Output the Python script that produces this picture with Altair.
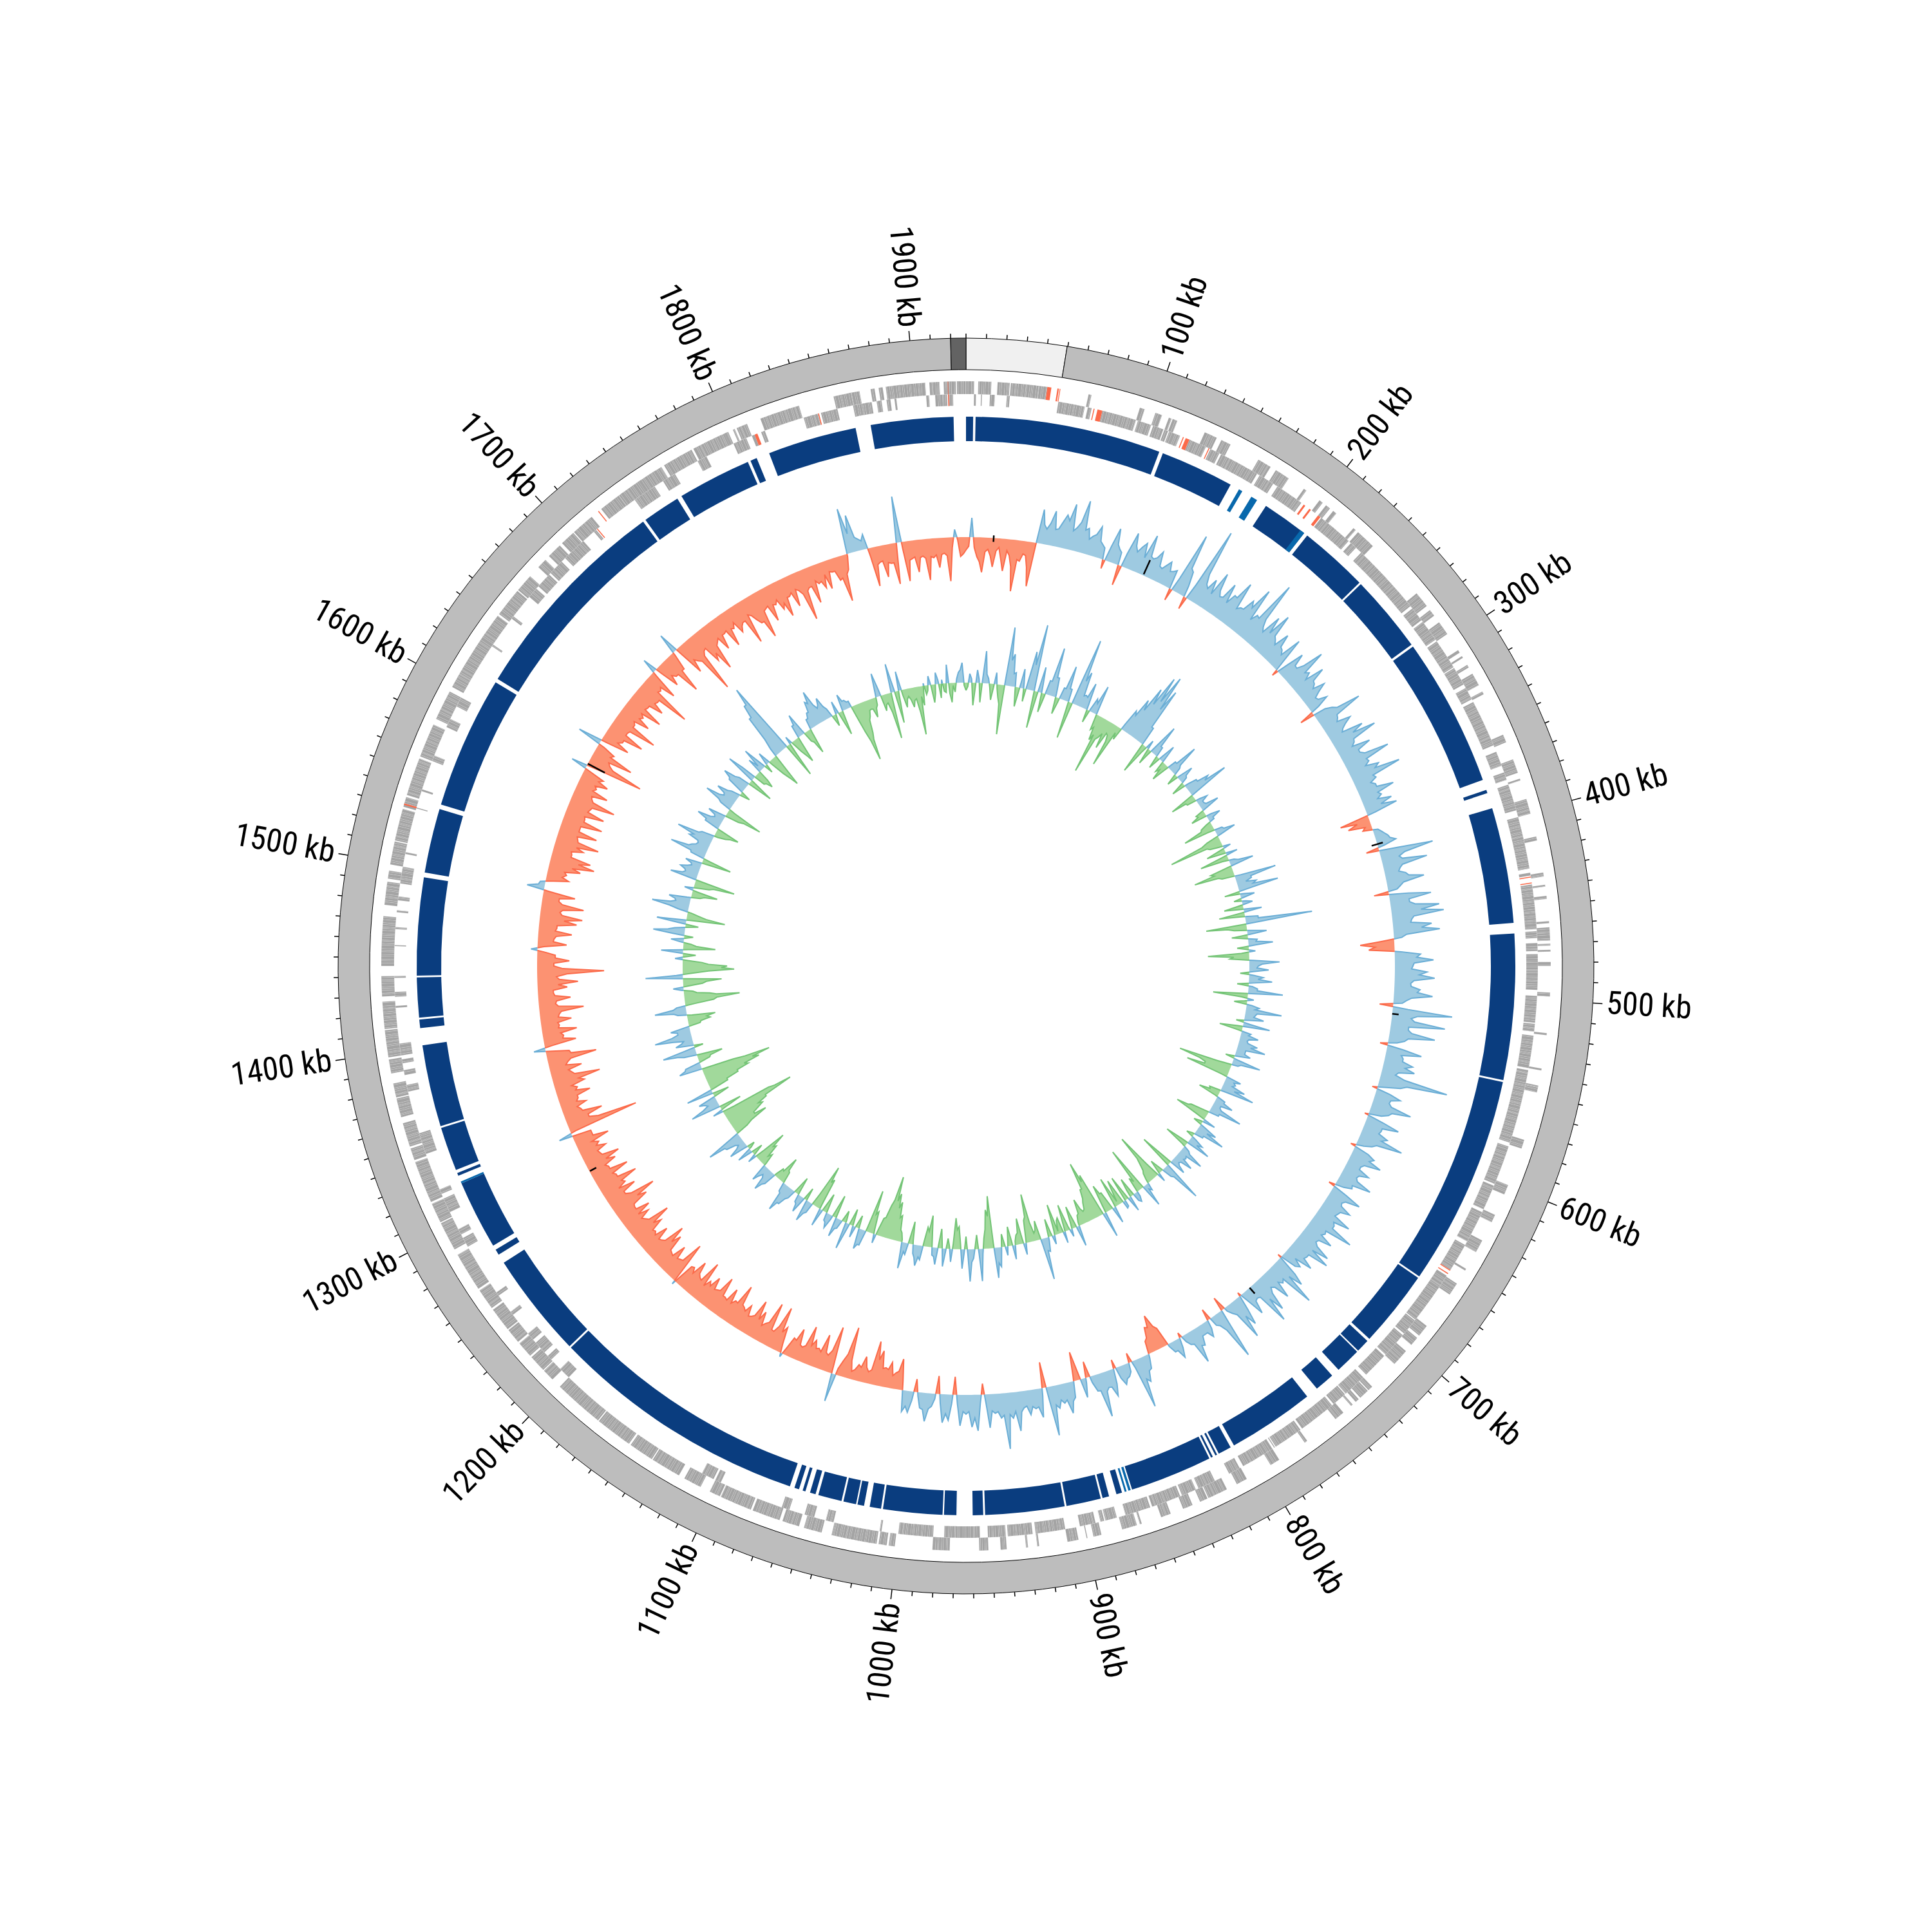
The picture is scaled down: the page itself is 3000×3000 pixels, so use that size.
import math
import altair as alt
import pandas as pd

alt.data_transformers.disable_max_rows()

# ---- genome and ideogram ----
genome_kb = 1927.5
deg_per_kb = 360.0 / genome_kb
tick_kb = list(range(0, 1921, 10))
label_kb = list(range(100, 1901, 100))
ideogram = [
    (0.0, 9.28, "#f0f0f0"),
    (9.28, 358.59, "#bdbdbd"),
    (358.59, 360.0, "#636363"),
]

# ---- contig blocks (degrees clockwise from top) ----
contigs_dark = [
    (0, .75), (1, 20.6), (21, 28.8), (33.1, 38), (38.4, 45.75), (45.95, 54.2), (54.45, 70.2),
    (71.3, 71.65), (73.3, 85.5), (86.6, 102), (102.2, 124.4), (124.6, 132.75), (133.05, 134.45),
    (134.6, 137.3), (138.2, 140.3), (141.6, 150.8), (151.2, 152.6), (152.8, 153), (153.3, 153.5),
    (153.7, 162.4), (163.5, 164.1), (164.9, 165.6), (165.8, 169.45), (169.65, 178), (178.2, 179.3),
    (181, 182.3), (182.45, 188.7), (188.9, 190.1), (190.7, 191.4), (191.55, 192.9), (193.1, 195.6),
    (195.9, 196.5), (197, 197.3), (197.7, 198.2), (198.7, 226), (226.2, 237.3), (238.3, 238.9),
    (239.4, 246.7), (247.55, 247.85), (248.2, 252.85), (253.05, 261.7), (263.5, 264.4), (264.6, 268.8),
    (269, 279.3), (279.8, 286.6), (287.1, 301.1), (301.5, 324), (324.3, 328.3), (328.8, 336.6),
    (336.9, 337.6), (339, 348.4), (350, 358.7),
]
contigs_light = [(29.8, 30.2), (31.3, 32), (37.5, 38), (162.55, 162.8), (163, 163.2), (246.7, 246.9)]

# ---- genes (degrees) ----
genes_outer = [
    (12.1, 12.4), (17.3, 17.8), (18.9, 19.6), (20.3, 20.6), (20.7, 21.2), (24.1, 25.4),
    (25.9, 26.9), (30, 31.4), (32, 33.5), (35.3, 35.6), (37.2, 37.6), (38, 38.5), (38.9, 39.3),
    (41.5, 41.8), (42.1, 44.1), (50.4, 52), (52.5, 53.2), (54, 55.4), (57.3, 57.6), (58, 58.2),
    (59, 59.3), (60, 61.3), (62, 62.3), (66.7, 67.5), (69.3, 70.7), (71.3, 71.5), (73.4, 74.9),
    (77.2, 77.6), (80.8, 81.2), (82, 82.2), (83.1, 83.4), (85.6, 85.8), (86.2, 87.5), (87.8, 88),
    (88.4, 88.6), (89.6, 90), (92.6, 93), (96.6, 96.8), (100.1, 100.3), (101.8, 102), (102, 102.5),
    (107.3, 108.2), (112, 113), (115.2, 116), (118, 119.3), (121.2, 121.4), (122.9, 124.2),
    (128, 129.2), (129.5, 130.4), (131.2, 132.9), (136, 136.5), (136.6, 137.6), (137.8, 138.2),
    (138.6, 138.8), (139.8, 140.8), (144.3, 144.6), (147.6, 148.6), (151.3, 152.4), (153.5, 155.5),
    (155.6, 156.4), (157.2, 158.2), (159.5, 160.5), (162.5, 162.7), (163, 164.5), (166.6, 167.4),
    (168, 168.1), (168.9, 170), (172.8, 173), (173.9, 174.1), (176, 176.6), (177.8, 178.7),
    (181.6, 183.3), (187, 187.6), (187.8, 188.6), (188.8, 193.3), (194.3, 196.1), (196.6, 198.3),
    (198.6, 201.4), (201.6, 204.8), (204.9, 206), (207, 208.8), (209.4, 212.4), (212.5, 215),
    (215.2, 218.9), (219, 224), (225, 226.2), (226.3, 228), (228.2, 229.8), (230, 231.5),
    (231.6, 234), (234.2, 236.3), (236.5, 240.4), (241, 243.9), (244, 246), (246.2, 250.4),
    (250.6, 251.8), (252, 254.4), (255, 256.9), (257, 258.4), (259.4, 260.8), (261, 263.7),
    (263.8, 266.5), (267, 269), (270, 274.9), (276, 278.3), (278.6, 279.4), (280, 282.3),
    (282.4, 285.6), (285.8, 286.8), (287, 290.8), (291, 294.4), (295, 298), (298.5, 300),
    (300, 306.8), (307, 309.9), (310, 311.8), (313, 314), (314.5, 316), (316.3, 317.8),
    (317.9, 320.2), (321.4, 323.6), (323.6, 326), (325.8, 328.6), (328.9, 332), (332.2, 336),
    (336.5, 336.7), (335.6, 335.8), (336.9, 338), (339.4, 343.4), (346.9, 348.7), (348.7, 349.5),
    (350.6, 351), (351.4, 351.8), (352.1, 356), (356.4, 357.4), (357.8, 359), (359.1, 360),
    (0, .8), (1.2, 2.5), (3.1, 4.3), (4.4, 7.2), (7.2, 8),
]
genes_inner = [
    (356.0, 356.3), (356.9, 358.1), (358.2, 358.7), (0.8, 1), (1.5, 1.6), (2.4, 2.9), (4.1, 4.4),
    (9.3, 12), (12.3, 12.7), (13.8, 17.3), (17.5, 18.9), (19.1, 20.2), (20.3, 20.7), (20.8, 22),
    (23, 24.8), (25.3, 26.3), (26.5, 30.6), (30.9, 32.5), (33, 35.9), (38.4, 42), (42.3, 43),
    (43.7, 51), (51.3, 52.8), (53, 55.2), (55.4, 58.5), (58.6, 60.5), (60.9, 62.2), (62.5, 67.3),
    (68, 69.5), (70.2, 71), (71.5, 74.2), (74.9, 80.2), (80.6, 80.9), (81.8, 86.3), (86.5, 87.2),
    (87.7, 88.5), (88.8, 92.4), (93, 95.7), (95.8, 96.6), (97, 100.3), (100.5, 103), (103, 108),
    (108.4, 112.4), (112.6, 115.2), (115.5, 118.8), (119.2, 122.1), (122.8, 124), (124, 128.2),
    (128.3, 130), (130.2, 132.8), (133, 135.6), (136, 138.4), (138.5, 140), (140.2, 144),
    (144.2, 147.2), (147.3, 147.4), (147.6, 151), (151.4, 152.6), (154.2, 156), (156.3, 157.8),
    (158, 161), (161.2, 163.8), (164.7, 165.9), (166, 166.4), (166.9, 167.2), (167.2, 168.5),
    (170, 173), (173.3, 175.8), (176, 177.8), (178.6, 180), (180, 182.2), (183.3, 186.8),
    (188.5, 188.7), (193.4, 194.2), (195.4, 196.4), (198, 198.8), (205.4, 206), (206.2, 207.5),
    (224, 225.2), (226.5, 227), (227.5, 228.8), (229.2, 230), (232.4, 232.8), (234.8, 235.2),
    (240.6, 241.6), (242, 242.6), (244.5, 246), (246.5, 247), (250.8, 253), (257.3, 258),
    (259, 259.5), (260.2, 260.6), (261, 262.2), (265.8, 266), (266.9, 267.4), (268.8, 269),
    (272, 272.1), (273.7, 273.9), (275.4, 275.6), (276.6, 277), (278.3, 280), (281.3, 281.5),
    (286, 286.1), (287.8, 288), (291, 291.6), (294.7, 295.6), (297, 298), (304, 304.2), (307.4, 307.7),
    (310.2, 311.3), (311.6, 313.2), (313.4, 315), (315.5, 318), (319.4, 319.7), (324.6, 324.8),
    (324.8, 327), (328, 329.4), (332, 333), (336, 337.4), (338, 338.3), (339, 339.4), (343.5, 345),
    (345.3, 347), (348.6, 350.5), (351, 351.5), (352, 352.4), (352.8, 353),
]
genes_red_outer = [(8, 8.4), (9, 9.15), (9.22, 9.3), (286, 286.15), (321, 321.1), (358.2, 358.25)]
genes_red_inner = [(12.9, 13), (13.3, 13.8), (22.3, 22.4), (22.6, 23), (25.1, 25.2), (36.2, 36.4),
                   (36.9, 37.1), (38, 38.3), (81, 81.1), (81.6, 81.7), (122.1, 122.2), (122.5, 122.6),
                   (319.8, 319.9), (338.3, 338.6), (345, 345.1), (358.2, 358.3)]
gene_lengths = [.22, .14, .3, .18, .26, .12, .2, .34, .16, .24, .1, .28, .19, .15, .32, .21, .13, .25, .17, .3]

# ---- outer signal: samples every 0.75 deg, rows of 15 deg ----
skew = [
 -20, 30, -30, -54, -18, -45, -14, -50, -25, -80, -32, -22, -69, 53, 24, 54, 28, 52, 71, 36,
 81, 40, 30, 48, 22, -14, 54, 24, -32, 57, 30, 48, 65, 30, 46, 22, 38, 26, -19, 98,
 40, -20, 122, 35, 48, 65, 30, 58, 45, 73, 35, 55, 82, 42, 107, 34, 60, 71, 32, 50,
 28, 56, -10, 45, 25, 68, 35, 54, 30, 42, 18, 33, -23, 30, 74, 28, 45, 26, 55, 72,
 30, 52, 30, 74, 36, 48, 79, 35, 30, 56, 32, 45, 50, -46, -36, -15, 12, 20, 30, -20,
 84, 28, 70, 25, 32, 59, 20, -23, 65, 30, 75, 81, 30, 60, 72, 12, -53, -40, 40, 60,
 28, 50, 62, 25, 40, 60, 20, -21, 93, 30, 84, 28, 71, 25, -12, 55, 28, 45, 50, 22,
 107, 35, -8, 40, 25, 63, 30, -6, 53, 28, 42, 70, 24, -8, 36, 51, 22, 40, 24, 53,
 26, -10, 50, 24, 44, 28, 55, 34, 71, 30, 48, 26, 56, 62, 30, 46, 32, -6, 52, 78,
 30, 50, 22, 58, 72, 20, 42, -6, 48, 65, 14, -22, 80, 18, -18, 26, 16, 30, 54, 18,
 -8, 30, 16, -30, -56, -40, -20, 22, 40, 78, -15, 20, 30, -14, 42, 25, 69, 25, -25, 30,
 -45, 25, 48, 30, 36, 77, -40, 45, 30, 38, 26, 61, 40, 87, 38, 30, 52, -17, 56, 50,
 30, 48, -28, 40, 44, -28, 20, 44, 24, -20, 33, 33, -48, -25, -40, -30, -55, -68, -18, -40,
 -25, -12, -80, -24, 44, -73, -25, -55, -30, -40, -59, -22, -48, -30, 6, -40, -69, -25, -68, -30,
 -45, -59, -28, -42, -34, -66, -35, -50, -30, -59, -32, -48, -36, -63, -30, -52, -36, 6, -66, -30,
 -48, -28, -55, -66, -30, -48, -32, -50, -69, -32, -44, -51, -30, -58, -76, -30, -52, -40, -64, -34,
 -58, -30, -46, -56, -28, -42, -34, -54, -30, 21, -111, -36, -60, -28, -40, -30, -52, -34, -48, -75,
 -32, -50, -30, -77, -36, 18, -50, -32, -54, -28, -48, -30, -69, -26, -50, -24, -46, -63, -30, -104,
 -26, -50, -28, 10, -45, -25, -52, -28, -58, -66, -30, -66, -26, -50, 27, 8, -35, -30, -50, -70,
 -62, -30, -46, -68, -32, -60, -30, -63, -32, -60, -34, -71, -30, -52, -30, -45, -34, 25, -90, -32,
 -65, -30, 38, -45, -30, -60, -28, -72, -30, -50, -34, -60, -30, -52, -36, -85, -28, -48, 23, -40,
 -30, -66, -30, 32, -50, -36, -96, -30, -55, -75, -32, -50, -28, -55, -30, -42, -30, -70, -28, -46,
 -74, -30, -55, -32, -44, -59, -30, -50, -28, -79, -30, -58, -30, -40, -44, -20, -36, -72, -24, 71,
 58, 18, 23, -61, -25, -50, -30, -64, 72, -62, -28, -50, -26, -64, -30, -46, -24, -68, 12, -30,
]
# samples half way between the ones above
skew_mid = [
 -14, -16, -38, -22, -28, -20, -32, -18, -42, -30, -20, -40, -8, 30, 34, 26, 40, 44, 30, 46,
 36, 24, 34, 26, 18, 24, 30, 20, 22, 38, 40, 26, 32, 34, 24, 30, 24, 30, 22, 44,
 18, 26, 50, 30, 26, 38, 32, 28, 44, 30, 36, 46, 30, 40, 46, 28, 34, 36, 26, 30,
 22, 20, 18, 26, 36, 30, 24, 32, 24, 28, 20, 14, 20, 36, 30, 24, 34, 22, 36, 32,
 24, 30, 36, 34, 28, 40, 32, 24, 30, 28, 24, 26, 14, -20, -10, 8, 16, 22, 10, 30,
 38, 32, 30, 22, 36, 26, 14, 30, 30, 38, 46, 34, 28, 44, 20, -20, -30, 10, 34, 30,
 26, 38, 30, 26, 36, 28, 14, 24, 40, 36, 28, 34, 30, 14, 26, 24, 28, 34, 26, 38,
 44, 14, 22, 26, 30, 34, 20, 26, 28, 26, 34, 30, 12, 24, 30, 26, 22, 26, 28, 24,
 14, 24, 28, 26, 30, 26, 30, 34, 28, 26, 28, 32, 30, 30, 28, 18, 26, 34, 30, 26,
 24, 26, 30, 34, 22, 22, 16, 24, 30, 20, 6, 24, 30, 14, 14, 16, 16, 28, 20, 10,
 16, 16, 4, -36, -38, -24, 6, 24, 34, 12, 14, 22, 18, 24, 26, 30, 26, 10, 8, -10,
 -8, 30, 26, 24, 30, 20, 12, 28, 26, 24, 32, 30, 34, 34, 28, 26, 14, 14, 36, 26,
 26, 14, 14, 30, 14, 8, 24, 26, 6, 14, 24, -14, -28, -20, -28, -28, -40, -22, -24, -22,
 -16, -28, -36, -10, -20, -34, -28, -26, -28, -30, -26, -24, -28, -12, -14, -30, -36, -26, -34, -24,
 -30, -32, -26, -30, -36, -34, -28, -28, -30, -34, -30, -30, -24, -28, -34, -28, -34, -34, -32, -28,
 -26, -30, -40, -34, -28, -28, -30, -38, -36, -28, -28, -30, -32, -44, -38, -30, -26, -36, -34, -30,
 -30, -26, -32, -30, -26, -28, -24, -30, -30, -8, -50, -36, -30, -24, -26, -30, -30, -26, -40, -36,
 -28, -26, -36, -38, -10, -12, -30, -28, -26, -26, -28, -34, -30, -28, -26, -24, -32, -34, -46, -40,
 -26, -28, -12, -10, -24, -28, -26, -28, -38, -34, -34, -32, -26, -10, 10, -12, -24, -26, -36, -44,
 -30, -28, -34, -34, -30, -30, -30, -32, -30, -32, -36, -34, -28, -26, -26, -28, -6, -30, -40, -28,
 -26, -10, -10, -24, -30, -28, -30, -30, -26, -30, -28, -28, -30, -34, -36, -26, -24, -8, -12, -24,
 -30, -30, -6, -12, -30, -40, -36, -28, -44, -36, -28, -28, -26, -28, -22, -34, -30, -24, -38, -46,
 -32, -28, -30, -26, -36, -30, -26, -24, -36, -34, -30, -24, -28, -20, -18, -20, -34, -30, -4, 30,
 22, 14, -12, -28, -24, -28, -30, -4, -10, -30, -26, -28, -30, -28, -26, -26, -28, -16, -4, -26,
]

# ---- inner signal, same sampling ----
content = [
 -12, 14, -35, 20, -30, 50, 8, -25, 18, -20, -77, 91, 50, 22, -30, 30, -20, 60, 104, -58,
 40, -30, 22, 76, 30, -26, 18, 55, 20, -58, 106, 55, 20, 42, -20, 22, 46, -25, -40, -92,
 -30, -45, -20, -69, -20, 36, 60, 85, 110, 116, 95, 30, -49, 14, -25, 50, 16, -20, 28, -18,
 -29, 14, 49, 12, -18, 26, 10, -22, 20, 38, 66, -40, -15, 18, 8, 30, -14, -25, 22, 8,
 -18, -50, 12, 31, -20, -84, -20, 12, -30, 18, -45, 8, 37, -35, -63, -20, 65, 24, 30, 63,
 -24, 22, -12, 16, -30, 28, -40, 20, 104, -63, -20, 30, -25, 14, 38, -18, 10, -64, -30, 47,
 14, 30, -14, 22, 36, -18, 14, 54, -54, 10, -20, 20, 56, 16, 30, -12, 42, -36, 15, 28,
 12, 30, 44, 14, 24, -14, 44, 10, -84, -40, -68, 24, 18, 36, 53, -18, -33, 14, 30, 12,
 51, 16, -30, -52, 20, -14, 30, 47, 14, -12, 22, 38, -38, 10, 39, 14, 30, 10, 26, -54,
 65, 16, -22, 14, -78, -30, -16, 12, 36, -72, -24, 16, -30, 24, -40, 12, -25, -48, 26, -30,
 -45, 40, -70, -92, -50, -30, -18, -40, -16, 32, -35, 12, -42, 18, -20, -48, 14, -28, 22, 65,
 -30, -12, -75, -35, 18, -40, -15, 22, -30, 14, -20, 30, 47, -81, -60, -16, 50, -22, 14, 50,
 -20, 30, -35, -48, 20, -16, 28, -30, 26, 12, -49, -30, 22, 32, 14, -35, 18, 41, -14, -40,
 -60, -72, -98, -50, -28, 14, -35, -67, 24, 32, -20, 18, -26, 42, -18, 14, 30, -36, 22, 12,
 -30, 28, -50, -69, 16, 34, -20, 26, 12, -28, 14, 30, 45, 14, -18, -40, -16, 20, 36, 12,
 28, -20, -34, -53, 14, -18, 24, -12, 30, 10, 28, 56, -20, -59, -40, -60, -70, -117, -80, 16,
 -35, 47, 16, 28, -26, 42, -30, -50, -70, -90, -109, -50, 36, 24, -18, -40, 20, 52, -14, 28,
 14, 58, 20, 30, -18, -35, -44, 14, 49, 14, -45, -86, -40, -14, 16, -30, -60, 58, -16, -80,
 -69, -30, 12, -20, 34, -50, -12, 20, -14, 49, 16, -20, 46, -60, -18, 16, 58, 22, 34, -14,
 -40, 14, -24, -63, 42, 20, 30, 14, 26, -46, 22, 58, 26, 18, 36, 58, 20, -18, -37, 24,
 40, 14, 28, -22, -58, 18, 48, 20, 36, 14, -16, 28, 42, 18, -40, 48, -18, -30, 24, 38,
 -14, 20, -28, -54, 14, 70, 90, 117, -56, 12, -20, -42, 20, 36, -16, -40, 16, 24, 40, 54,
 22, 36, 14, -18, 20, -38, 26, 14, 10, -45, -92, -50, -25, -15, -30, -12, 37, -25, -14, -72,
 45, -50, 30, -28, -12, -30, -18, -75, -30, -14, 14, -28, 18, -22, -12, 29, -30, -14, 16, 31,
]
content_mid = [
 -6, 6, -10, 6, 10, 14, -6, -6, -6, -30, 8, 40, 20, -8, -4, 8, 16, 40, 10, -10,
 10, -8, 22, 30, 6, -8, 18, 20, -20, 30, 40, 18, 18, 10, 4, 16, 4, -20, -30, -35,
 -22, -18, -30, -10, 10, 30, 44, 60, 70, 60, 30, -10, -12, -6, 12, 16, -4, 6, 6, -12,
 -8, 14, 16, -4, 6, 12, -4, 6, 20, 30, 10, -16, 6, 8, 10, 8, -12, 8, 8, -8,
 -20, -12, 14, 6, -30, -24, -6, -8, -8, -12, -10, 14, -4, -30, -25, 10, 24, 14, 24, 14,
 6, 4, 6, -6, -4, -6, -6, 20, 20, -30, 6, 4, -6, 12, 8, -4, -12, -24, 6, 20,
 12, 6, 8, 14, 8, 6, 14, -10, -10, -4, 8, 14, 18, 14, 8, 10, -8, -10, 12, 14,
 14, 20, 14, 14, 6, 8, 14, -24, -50, -40, -10, 14, 14, 20, 12, -16, -4, 14, 12, 16,
 16, -8, -34, -14, -4, 8, 16, 14, -4, 8, 14, -10, -6, 14, 12, 12, 12, 14, -16, 10,
 20, -4, -6, -24, -40, -20, -6, 8, -10, -16, 8, 12, -12, -4, 10, -40, -6, -8, -4, -30,
 -10, -12, -60, -50, -36, -20, -24, -18, -6, -8, -10, -6, -14, -24, -4, -8, -4, 6, 20, 6,
 -16, -30, -40, -8, -8, -18, -6, -8, -8, -4, 6, 24, -8, -50, -30, 8, 8, -4, 20, 8,
 6, -8, -30, -8, -4, 6, -6, -4, 14, -20, -24, -8, 18, 20, -6, -8, 14, -4, -18, -36,
 -50, -60, -60, -30, -10, -8, -30, -6, 24, 4, -4, -6, 8, -4, -2, 16, -8, 6, 14, -10,
 -4, -8, -44, -20, 20, 6, 4, 14, -6, -4, 18, 30, 16, -2, -20, -14, -4, 24, 16, 18,
 -4, -14, -30, -16, -4, 4, -4, 8, 16, 14, 30, 14, -30, -40, -50, -54, -70, -90, -20, -6,
 10, 26, 20, -4, 6, -6, -30, -50, -64, -80, -70, -8, 26, -2, -20, -8, 30, 16, 6, 18,
 30, 30, 20, 6, -20, -30, -8, 20, 20, -14, -50, -50, -20, 4, -8, -36, -8, 10, -40, -60,
 -40, -8, -4, 6, -8, -20, 6, -2, 18, 26, -2, 12, -6, -30, -6, 30, 30, 24, 6, -20,
 -8, -4, -30, -10, 24, 22, 20, 16, -10, -12, 24, 30, 20, 20, 30, 24, -6, -24, -4, 24,
 20, 16, 4, -30, -10, 24, 26, 22, 20, -2, 4, 30, 24, -10, -4, 24, -20, -18, 8, 10,
 4, -6, -40, -20, 30, 70, 90, 30, -20, -4, -30, -10, 20, 6, -20, -6, 16, 24, 36, 30,
 26, 20, -2, -2, -10, -4, 14, 10, -20, -60, -60, -30, -16, -16, -16, 10, 10, -16, -30, -8,
 4, -10, -8, -16, -18, -20, -40, -16, 4, -8, -2, -14, 6, 6, -14, -16, -4, 6, 20, -4,
]

black_marks = [(3.7, 660, 670), (24.4, 668, 692), (73.5, 657, 675), (96.4, 666, 676), (138.6, 666, 678),
               (241.4, 654, 665), (298.15, 636, 666)]

skew_base = 666
content_base = 440
sample_step = 0.375
half = 1492
label_font = "Roboto Condensed, DejaVu Sans Condensed, Liberation Sans, sans-serif"


def weave(a, b):
    out = []
    for x, y in zip(a, b):
        out += [x, y]
    return out


def runs(values):
    n = len(values)
    fill_rows, edge_rows = [], []
    run_id = 0
    sign_cur = values[0] > 0
    pts = []

    def close(points, sign, rid):
        for k, (p, v) in enumerate(points):
            edge_rows.append(dict(pos=p, val=v, run=rid, k=k, pos_sign=sign))
        forward = list(points) + [(p, 0) for p, v in reversed(points)]
        for k, (p, v) in enumerate(forward):
            fill_rows.append(dict(pos=p, val=v, run=rid, k=k, pos_sign=sign))

    for i in range(n + 1):
        v = values[i % n]
        p = i * sample_step
        s = v > 0
        if s != sign_cur:
            pv = values[(i - 1) % n]
            cross = (i - 1 + abs(pv) / (abs(pv) + abs(v))) * sample_step
            pts.append((cross, 0))
            close(pts, sign_cur, run_id)
            run_id += 1
            pts = [(cross, 0)]
            sign_cur = s
        pts.append((p, v))
    close(pts, sign_cur, run_id)
    return pd.DataFrame(fill_rows), pd.DataFrame(edge_rows)


def split_genes(blocks):
    out = []
    idx = 0
    for a, b in blocks:
        p = a
        while p < b - 1e-6:
            q = min(b, p + gene_lengths[idx % len(gene_lengths)])
            out.append((p, q))
            p = q
            idx += 1
    return out


X = alt.X("x:Q", scale=alt.Scale(domain=[-half, half], nice=False, zero=False), axis=None)
Y = alt.Y("y:Q", scale=alt.Scale(domain=[-half, half], nice=False, zero=False), axis=None)
TH = alt.Theta("a:Q", stack=None, scale=alt.Scale(domain=[0, 360], range=[0, 2 * math.pi]))
RD = alt.Radius("r0:Q", scale=alt.Scale(domain=[0, half], range=[0, half]))


def arcs(rows, r0, r1, color, **kw):
    df = pd.DataFrame([dict(a=a, b=b, r0=r0, r1=r1) for a, b in rows])
    return alt.Chart(df).mark_arc(fill=color, **kw).encode(theta=TH, theta2="b:Q", radius=RD, radius2="r1:Q")


def polar(chart, base):
    return chart.transform_calculate(
        r=f"{base}+datum.val",
        x="datum.r*sin(datum.pos*PI/180)",
        y="datum.r*cos(datum.pos*PI/180)",
    )


def signal(values, base, pos_fill, pos_line, neg_fill, neg_line):
    fill_df, edge_df = runs(values)
    out = []
    for sign, fc, lc in ((True, pos_fill, pos_line), (False, neg_fill, neg_line)):
        f = fill_df[fill_df.pos_sign == sign]
        e = edge_df[edge_df.pos_sign == sign]
        out.append(polar(alt.Chart(f).mark_line(fill=fc, strokeWidth=0, stroke=fc, interpolate="linear-closed"), base)
                   .encode(x=X, y=Y, detail="run:N", order="k:Q"))
        out.append(polar(alt.Chart(e).mark_line(color=lc, strokeWidth=2), base)
                   .encode(x=X, y=Y, detail="run:N", order="k:Q"))
    return out


layers = []
for a, b, c in ideogram:
    layers.append(alt.Chart(pd.DataFrame([dict(a=a, b=b, r0=926, r1=975)]))
                  .mark_arc(fill=c, stroke="black", strokeWidth=1)
                  .encode(theta=TH, theta2="b:Q", radius=RD, radius2="r1:Q"))

tick_df = pd.DataFrame([dict(pos=k * deg_per_kb, r1=975, r2=990 if k % 100 == 0 and k > 0 else 982) for k in tick_kb])
layers.append(alt.Chart(tick_df).transform_calculate(
    x="datum.r1*sin(datum.pos*PI/180)", y="datum.r1*cos(datum.pos*PI/180)",
    x2="datum.r2*sin(datum.pos*PI/180)", y2="datum.r2*cos(datum.pos*PI/180)",
).mark_rule(color="black", strokeWidth=1.5).encode(x=X, y=Y, x2="x2:Q", y2="y2:Q"))

for left in (False, True):
    rows = []
    for k in label_kb:
        p = k * deg_per_kb
        if (p >= 180) == left:
            ang = (p + 90) % 360 if left else (p - 90) % 360
            rows.append(dict(pos=p, txt=f"{k} kb", ang=ang))
    layers.append(alt.Chart(pd.DataFrame(rows)).transform_calculate(
        x="996*sin(datum.pos*PI/180)", y="996*cos(datum.pos*PI/180)",
    ).mark_text(font=label_font, fontSize=50, align="right" if left else "left", baseline="middle", color="black")
        .encode(x=X, y=Y, text="txt:N", angle=alt.Angle("ang:Q", scale=None)))

gene_style = dict(stroke="#ffffff", strokeWidth=0.4, strokeOpacity=0.35)
layers.append(arcs(split_genes(genes_outer), 888, 908, "#a4a4a4", **gene_style))
layers.append(arcs(split_genes(genes_inner), 870, 888, "#a4a4a4", **gene_style))
layers.append(arcs(genes_red_outer, 888, 908, "#fb6a4a"))
layers.append(arcs(genes_red_inner, 870, 888, "#fb6a4a"))
layers.append(arcs(contigs_dark, 815, 853, "#0a3d7f"))
layers.append(arcs(contigs_light, 815, 853, "#0868ac"))
layers += signal(weave(skew, skew_mid), skew_base, "#9ecae1", "#6baed6", "#fc9272", "#fb6a4a")
layers += signal(weave(content, content_mid), content_base, "#9ecae1", "#6baed6", "#a1d99b", "#74c476")
black_df = pd.DataFrame([dict(pos=p, r1=a, r2=b) for p, a, b in black_marks])
layers.append(alt.Chart(black_df).transform_calculate(
    x="datum.r1*sin(datum.pos*PI/180)", y="datum.r1*cos(datum.pos*PI/180)",
    x2="datum.r2*sin(datum.pos*PI/180)", y2="datum.r2*cos(datum.pos*PI/180)",
).mark_rule(color="black", strokeWidth=2.5).encode(x=X, y=Y, x2="x2:Q", y2="y2:Q"))

chart = alt.layer(*layers).properties(
    width=2 * half, height=2 * half, padding=0,
    autosize=alt.AutoSizeParams(type="none"),
).configure_view(stroke=None)

chart.save("out.html", embed_options={"renderer": "svg", "actions": False})
